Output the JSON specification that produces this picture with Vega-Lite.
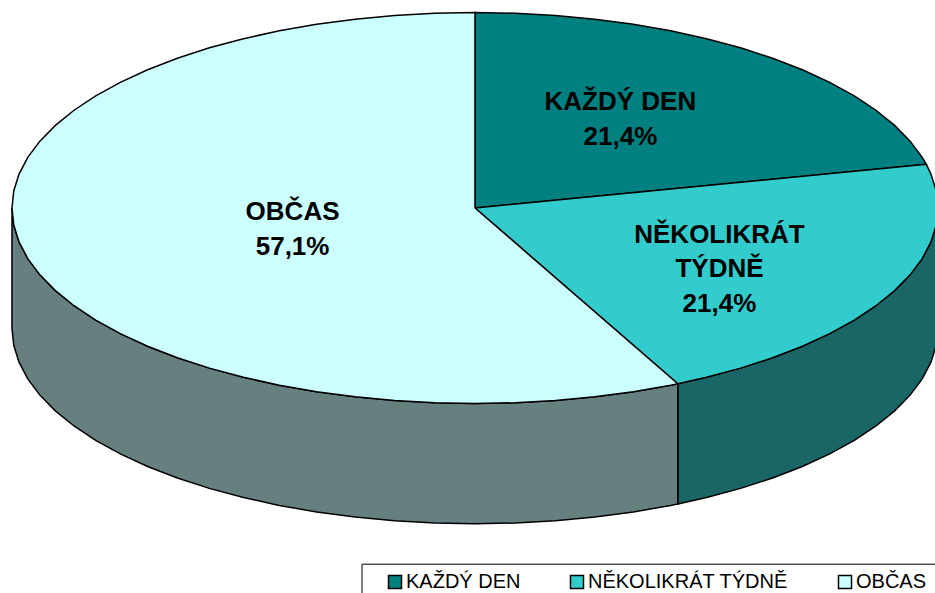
{
"$schema":"https://vega.github.io/schema/vega-lite/v6.json",
"width":935,"height":593,
"autosize":{"type":"fit","contains":"padding"},
"padding":0,
"background":"white",
"config":{"view":{"stroke":null},"font":"Liberation Sans"},
"datasets":{
"sides":[
{"p":"NĚKOLIKRÁT TÝDNĚ","i":0,"x":100,"y":0},{"p":"NĚKOLIKRÁT TÝDNĚ","i":1,"x":99.62,"y":-8.72},{"p":"NĚKOLIKRÁT TÝDNĚ","i":2,"x":98.48,"y":-17.36},{"p":"NĚKOLIKRÁT TÝDNĚ","i":3,"x":96.59,"y":-25.88},{"p":"NĚKOLIKRÁT TÝDNĚ","i":4,"x":93.97,"y":-34.2},{"p":"NĚKOLIKRÁT TÝDNĚ","i":5,"x":90.63,"y":-42.26},{"p":"NĚKOLIKRÁT TÝDNĚ","i":6,"x":86.6,"y":-50},{"p":"NĚKOLIKRÁT TÝDNĚ","i":7,"x":81.92,"y":-57.36},{"p":"NĚKOLIKRÁT TÝDNĚ","i":8,"x":76.6,"y":-64.28},{"p":"NĚKOLIKRÁT TÝDNĚ","i":9,"x":70.71,"y":-70.71},{"p":"NĚKOLIKRÁT TÝDNĚ","i":10,"x":64.28,"y":-76.6},{"p":"NĚKOLIKRÁT TÝDNĚ","i":11,"x":57.36,"y":-81.92},{"p":"NĚKOLIKRÁT TÝDNĚ","i":12,"x":50,"y":-86.6},{"p":"NĚKOLIKRÁT TÝDNĚ","i":13,"x":43.8,"y":-89.9},
{"p":"NĚKOLIKRÁT TÝDNĚ","i":14,"x":43.8,"y":-151.4},{"p":"NĚKOLIKRÁT TÝDNĚ","i":15,"x":50,"y":-148.1},{"p":"NĚKOLIKRÁT TÝDNĚ","i":16,"x":57.36,"y":-143.42},{"p":"NĚKOLIKRÁT TÝDNĚ","i":17,"x":64.28,"y":-138.1},{"p":"NĚKOLIKRÁT TÝDNĚ","i":18,"x":70.71,"y":-132.21},{"p":"NĚKOLIKRÁT TÝDNĚ","i":19,"x":76.6,"y":-125.78},{"p":"NĚKOLIKRÁT TÝDNĚ","i":20,"x":81.92,"y":-118.86},{"p":"NĚKOLIKRÁT TÝDNĚ","i":21,"x":86.6,"y":-111.5},{"p":"NĚKOLIKRÁT TÝDNĚ","i":22,"x":90.63,"y":-103.76},{"p":"NĚKOLIKRÁT TÝDNĚ","i":23,"x":93.97,"y":-95.7},{"p":"NĚKOLIKRÁT TÝDNĚ","i":24,"x":96.59,"y":-87.38},{"p":"NĚKOLIKRÁT TÝDNĚ","i":25,"x":98.48,"y":-78.86},{"p":"NĚKOLIKRÁT TÝDNĚ","i":26,"x":99.62,"y":-70.22},{"p":"NĚKOLIKRÁT TÝDNĚ","i":27,"x":100,"y":-61.5},{"p":"NĚKOLIKRÁT TÝDNĚ","i":28,"x":100,"y":0},
{"p":"OBČAS","i":0,"x":43.8,"y":-89.9},{"p":"OBČAS","i":1,"x":42.26,"y":-90.63},{"p":"OBČAS","i":2,"x":34.2,"y":-93.97},{"p":"OBČAS","i":3,"x":25.88,"y":-96.59},{"p":"OBČAS","i":4,"x":17.36,"y":-98.48},{"p":"OBČAS","i":5,"x":8.72,"y":-99.62},{"p":"OBČAS","i":6,"x":0,"y":-100},{"p":"OBČAS","i":7,"x":-8.72,"y":-99.62},{"p":"OBČAS","i":8,"x":-17.36,"y":-98.48},{"p":"OBČAS","i":9,"x":-25.88,"y":-96.59},{"p":"OBČAS","i":10,"x":-34.2,"y":-93.97},{"p":"OBČAS","i":11,"x":-42.26,"y":-90.63},{"p":"OBČAS","i":12,"x":-50,"y":-86.6},{"p":"OBČAS","i":13,"x":-57.36,"y":-81.92},{"p":"OBČAS","i":14,"x":-64.28,"y":-76.6},{"p":"OBČAS","i":15,"x":-70.71,"y":-70.71},{"p":"OBČAS","i":16,"x":-76.6,"y":-64.28},{"p":"OBČAS","i":17,"x":-81.92,"y":-57.36},{"p":"OBČAS","i":18,"x":-86.6,"y":-50},{"p":"OBČAS","i":19,"x":-90.63,"y":-42.26},{"p":"OBČAS","i":20,"x":-93.97,"y":-34.2},{"p":"OBČAS","i":21,"x":-96.59,"y":-25.88},{"p":"OBČAS","i":22,"x":-98.48,"y":-17.36},{"p":"OBČAS","i":23,"x":-99.62,"y":-8.72},{"p":"OBČAS","i":24,"x":-100,"y":0},
{"p":"OBČAS","i":25,"x":-100,"y":-61.5},{"p":"OBČAS","i":26,"x":-99.62,"y":-70.22},{"p":"OBČAS","i":27,"x":-98.48,"y":-78.86},{"p":"OBČAS","i":28,"x":-96.59,"y":-87.38},{"p":"OBČAS","i":29,"x":-93.97,"y":-95.7},{"p":"OBČAS","i":30,"x":-90.63,"y":-103.76},{"p":"OBČAS","i":31,"x":-86.6,"y":-111.5},{"p":"OBČAS","i":32,"x":-81.92,"y":-118.86},{"p":"OBČAS","i":33,"x":-76.6,"y":-125.78},{"p":"OBČAS","i":34,"x":-70.71,"y":-132.21},{"p":"OBČAS","i":35,"x":-64.28,"y":-138.1},{"p":"OBČAS","i":36,"x":-57.36,"y":-143.42},{"p":"OBČAS","i":37,"x":-50,"y":-148.1},{"p":"OBČAS","i":38,"x":-42.26,"y":-152.13},{"p":"OBČAS","i":39,"x":-34.2,"y":-155.47},{"p":"OBČAS","i":40,"x":-25.88,"y":-158.09},{"p":"OBČAS","i":41,"x":-17.36,"y":-159.98},{"p":"OBČAS","i":42,"x":-8.72,"y":-161.12},{"p":"OBČAS","i":43,"x":0,"y":-161.5},{"p":"OBČAS","i":44,"x":8.72,"y":-161.12},{"p":"OBČAS","i":45,"x":17.36,"y":-159.98},{"p":"OBČAS","i":46,"x":25.88,"y":-158.09},{"p":"OBČAS","i":47,"x":34.2,"y":-155.47},{"p":"OBČAS","i":48,"x":42.26,"y":-152.13},{"p":"OBČAS","i":49,"x":43.8,"y":-151.4},{"p":"OBČAS","i":50,"x":43.8,"y":-89.9}
],
"tops":[
{"p":"KAŽDÝ DEN","i":0,"x":0,"y":0},{"p":"KAŽDÝ DEN","i":1,"x":0,"y":100},{"p":"KAŽDÝ DEN","i":2,"x":8.72,"y":99.62},{"p":"KAŽDÝ DEN","i":3,"x":17.36,"y":98.48},{"p":"KAŽDÝ DEN","i":4,"x":25.88,"y":96.59},{"p":"KAŽDÝ DEN","i":5,"x":34.2,"y":93.97},{"p":"KAŽDÝ DEN","i":6,"x":42.26,"y":90.63},{"p":"KAŽDÝ DEN","i":7,"x":50,"y":86.6},{"p":"KAŽDÝ DEN","i":8,"x":57.36,"y":81.92},{"p":"KAŽDÝ DEN","i":9,"x":64.28,"y":76.6},{"p":"KAŽDÝ DEN","i":10,"x":70.71,"y":70.71},{"p":"KAŽDÝ DEN","i":11,"x":76.6,"y":64.28},{"p":"KAŽDÝ DEN","i":12,"x":81.92,"y":57.36},{"p":"KAŽDÝ DEN","i":13,"x":86.6,"y":50},{"p":"KAŽDÝ DEN","i":14,"x":90.63,"y":42.26},{"p":"KAŽDÝ DEN","i":15,"x":93.97,"y":34.2},{"p":"KAŽDÝ DEN","i":16,"x":96.59,"y":25.88},{"p":"KAŽDÝ DEN","i":17,"x":97.48,"y":22.33},{"p":"KAŽDÝ DEN","i":18,"x":0,"y":0},
{"p":"NĚKOLIKRÁT TÝDNĚ","i":0,"x":0,"y":0},{"p":"NĚKOLIKRÁT TÝDNĚ","i":1,"x":97.48,"y":22.33},{"p":"NĚKOLIKRÁT TÝDNĚ","i":2,"x":98.48,"y":17.36},{"p":"NĚKOLIKRÁT TÝDNĚ","i":3,"x":99.62,"y":8.72},{"p":"NĚKOLIKRÁT TÝDNĚ","i":4,"x":100,"y":0},{"p":"NĚKOLIKRÁT TÝDNĚ","i":5,"x":99.62,"y":-8.72},{"p":"NĚKOLIKRÁT TÝDNĚ","i":6,"x":98.48,"y":-17.36},{"p":"NĚKOLIKRÁT TÝDNĚ","i":7,"x":96.59,"y":-25.88},{"p":"NĚKOLIKRÁT TÝDNĚ","i":8,"x":93.97,"y":-34.2},{"p":"NĚKOLIKRÁT TÝDNĚ","i":9,"x":90.63,"y":-42.26},{"p":"NĚKOLIKRÁT TÝDNĚ","i":10,"x":86.6,"y":-50},{"p":"NĚKOLIKRÁT TÝDNĚ","i":11,"x":81.92,"y":-57.36},{"p":"NĚKOLIKRÁT TÝDNĚ","i":12,"x":76.6,"y":-64.28},{"p":"NĚKOLIKRÁT TÝDNĚ","i":13,"x":70.71,"y":-70.71},{"p":"NĚKOLIKRÁT TÝDNĚ","i":14,"x":64.28,"y":-76.6},{"p":"NĚKOLIKRÁT TÝDNĚ","i":15,"x":57.36,"y":-81.92},{"p":"NĚKOLIKRÁT TÝDNĚ","i":16,"x":50,"y":-86.6},{"p":"NĚKOLIKRÁT TÝDNĚ","i":17,"x":43.8,"y":-89.9},{"p":"NĚKOLIKRÁT TÝDNĚ","i":18,"x":0,"y":0},
{"p":"OBČAS","i":0,"x":0,"y":0},{"p":"OBČAS","i":1,"x":43.8,"y":-89.9},{"p":"OBČAS","i":2,"x":42.26,"y":-90.63},{"p":"OBČAS","i":3,"x":34.2,"y":-93.97},{"p":"OBČAS","i":4,"x":25.88,"y":-96.59},{"p":"OBČAS","i":5,"x":17.36,"y":-98.48},{"p":"OBČAS","i":6,"x":8.72,"y":-99.62},{"p":"OBČAS","i":7,"x":0,"y":-100},{"p":"OBČAS","i":8,"x":-8.72,"y":-99.62},{"p":"OBČAS","i":9,"x":-17.36,"y":-98.48},{"p":"OBČAS","i":10,"x":-25.88,"y":-96.59},{"p":"OBČAS","i":11,"x":-34.2,"y":-93.97},{"p":"OBČAS","i":12,"x":-42.26,"y":-90.63},{"p":"OBČAS","i":13,"x":-50,"y":-86.6},{"p":"OBČAS","i":14,"x":-57.36,"y":-81.92},{"p":"OBČAS","i":15,"x":-64.28,"y":-76.6},{"p":"OBČAS","i":16,"x":-70.71,"y":-70.71},{"p":"OBČAS","i":17,"x":-76.6,"y":-64.28},{"p":"OBČAS","i":18,"x":-81.92,"y":-57.36},{"p":"OBČAS","i":19,"x":-86.6,"y":-50},{"p":"OBČAS","i":20,"x":-90.63,"y":-42.26},{"p":"OBČAS","i":21,"x":-93.97,"y":-34.2},{"p":"OBČAS","i":22,"x":-96.59,"y":-25.88},{"p":"OBČAS","i":23,"x":-98.48,"y":-17.36},{"p":"OBČAS","i":24,"x":-99.62,"y":-8.72},{"p":"OBČAS","i":25,"x":-100,"y":0},{"p":"OBČAS","i":26,"x":-99.62,"y":8.72},{"p":"OBČAS","i":27,"x":-98.48,"y":17.36},{"p":"OBČAS","i":28,"x":-96.59,"y":25.88},{"p":"OBČAS","i":29,"x":-93.97,"y":34.2},{"p":"OBČAS","i":30,"x":-90.63,"y":42.26},{"p":"OBČAS","i":31,"x":-86.6,"y":50},{"p":"OBČAS","i":32,"x":-81.92,"y":57.36},{"p":"OBČAS","i":33,"x":-76.6,"y":64.28},{"p":"OBČAS","i":34,"x":-70.71,"y":70.71},{"p":"OBČAS","i":35,"x":-64.28,"y":76.6},{"p":"OBČAS","i":36,"x":-57.36,"y":81.92},{"p":"OBČAS","i":37,"x":-50,"y":86.6},{"p":"OBČAS","i":38,"x":-42.26,"y":90.63},{"p":"OBČAS","i":39,"x":-34.2,"y":93.97},{"p":"OBČAS","i":40,"x":-25.88,"y":96.59},{"p":"OBČAS","i":41,"x":-17.36,"y":98.48},{"p":"OBČAS","i":42,"x":-8.72,"y":99.62},{"p":"OBČAS","i":43,"x":0,"y":100},{"p":"OBČAS","i":44,"x":0,"y":0}
],
"labels":[
{"t":"KAŽDÝ DEN\n21,4%","x":31.4,"y":54.0},
{"t":"NĚKOLIKRÁT\nTÝDNĚ\n21,4%","x":52.8,"y":-13.8},
{"t":"OBČAS\n57,1%","x":-39.4,"y":-2.1}
],
"frame":[{"x":-24.4,"x2":110,"y":-182.2,"y2":-210}]
},
"encoding":{
"x":{"field":"x","type":"quantitative","axis":null,"scale":{"domain":[-102.59,99.35],"nice":false,"zero":false}},
"y":{"field":"y","type":"quantitative","axis":null,"scale":{"domain":[-196.93,106.39],"nice":false,"zero":false}}
},
"layer":[
{"data":{"name":"sides"},
"mark":{"type":"line","stroke":"black","strokeWidth":1.5,"clip":true,"strokeJoin":"miter"},
"encoding":{"order":{"field":"i","type":"quantitative"},
"fill":{"field":"p","type":"nominal","legend":null,"scale":{"domain":["NĚKOLIKRÁT TÝDNĚ","OBČAS"],"range":["#1A6666","#668080"]}}}},
{"data":{"name":"tops"},
"mark":{"type":"line","stroke":"black","strokeWidth":1.5,"clip":true,"strokeJoin":"miter"},
"encoding":{"order":{"field":"i","type":"quantitative"},
"fill":{"field":"p","type":"nominal","scale":{"domain":["KAŽDÝ DEN","NĚKOLIKRÁT TÝDNĚ","OBČAS"],"range":["#008080","#33CCCC","#CCFFFF"]},
"legend":{"title":null,"orient":"none","legendX":362,"legendY":566,"direction":"horizontal","columns":3,"columnPadding":29,"padding":6,"symbolType":"square","symbolSize":169,"symbolStrokeColor":"black","symbolStrokeWidth":1.5,"symbolOffset":17,"labelFont":"Liberation Sans","labelFontSize":20,"labelColor":"black","labelOffset":1,"labelLimit":300}}}},
{"data":{"name":"frame"},
"mark":{"type":"rect","fill":"transparent","stroke":"black","strokeWidth":1,"clip":true},
"encoding":{"x2":{"field":"x2"},"y2":{"field":"y2"}}},
{"data":{"name":"labels"},
"mark":{"type":"text","font":"Liberation Sans","fontWeight":"bold","fontSize":26,"lineHeight":34.5,"lineBreak":"\n","align":"center","baseline":"middle","color":"black"},
"encoding":{"text":{"field":"t"}}}
],
"resolve":{"scale":{"fill":"independent"}}
}
